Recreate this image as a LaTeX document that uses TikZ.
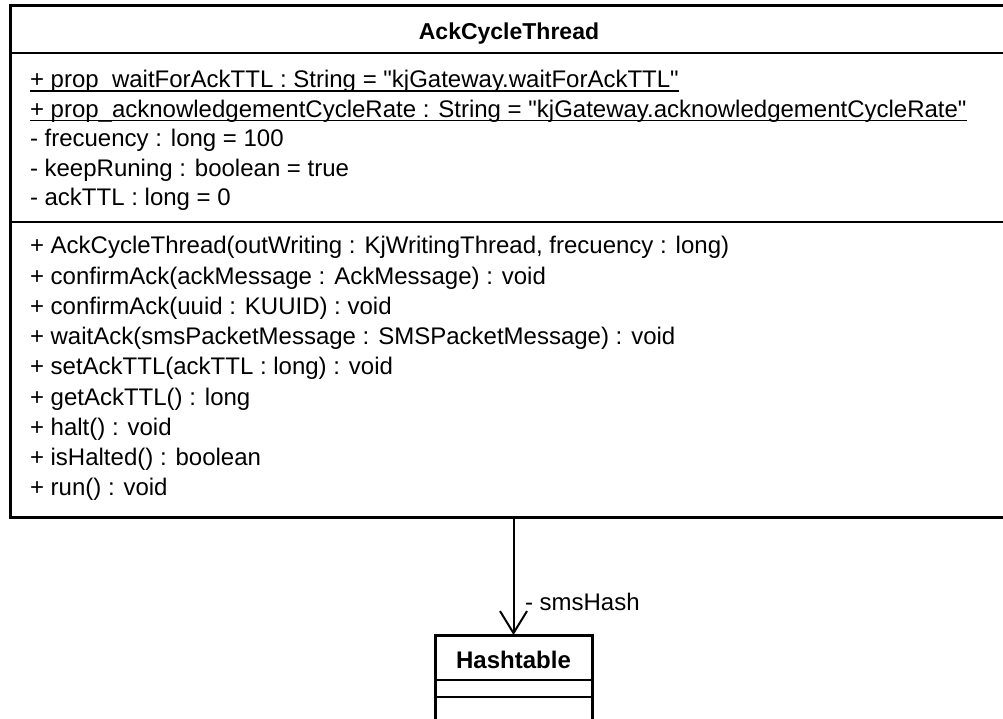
\documentclass[tikz,border=0pt]{standalone}
\usepackage{fontspec}
\newfontfamily\umlfont{Liberation Sans}
\usetikzlibrary{arrows.meta}
\begin{document}
\begin{tikzpicture}[x=1pt,y=-1pt,
  classbox/.style={draw=black, line width=3pt, inner sep=0pt, outer sep=0pt, fill=white},
  sepline/.style={draw=black, line width=2.2pt},
  txt/.style={anchor=base west, inner sep=0pt, outer sep=0pt, font=\umlfont\fontsize{24}{28}\selectfont},
  hdr/.style={anchor=base, inner sep=0pt, outer sep=0pt, font=\umlfont\bfseries\fontsize{23}{28}\selectfont},
  uline/.style={draw=black, line width=1.6pt},
  assoc/.style={draw=black, line width=2pt, -{Straight Barb[length=22pt, width=27pt, line width=2pt]}}
]
\useasboundingbox (0,0) rectangle (1003,719);
\fill[white] (0,0) rectangle (1003,719);

% main class
\node[classbox, minimum width=994pt, minimum height=511pt, anchor=north west] (ack) at (10,6) {};
\draw[sepline] (ack.west |- 0,53) -- (ack.east |- 0,53);
\draw[sepline] (ack.west |- 0,222) -- (ack.east |- 0,222);
\node[hdr] (title) at (509,40) {AckCycleThread};

% attributes
\node[txt] (a1) at (30,88) {+ prop\_waitForAckTTL : String = "kjGateway.waitForAckTTL"};
\node[txt] (a2) at (30,117.5) {+ prop\_acknowledgementCycleRate : String = "kjGateway.acknowledgementCycleRate"};
\node[txt] (a3) at (30,147) {- frecuency : long = 100};
\node[txt] (a4) at (30,176.5) {- keepRuning : boolean = true};
\node[txt] (a5) at (30,206) {- ackTTL : long = 0};
\draw[uline] ([yshift=-3pt]a1.base west) -- ([yshift=-3pt]a1.base east);
\draw[uline] ([yshift=-3pt]a2.base west) -- ([yshift=-3pt]a2.base east);

% operations
\node[txt] (m1) at (30,254) {+ AckCycleThread(outWriting : KjWritingThread, frecuency : long)};
\node[txt] (m2) at (30,284.2) {+ confirmAck(ackMessage : AckMessage) : void};
\node[txt] (m3) at (30,314.4) {+ confirmAck(uuid : KUUID) : void};
\node[txt] (m4) at (30,344.6) {+ waitAck(smsPacketMessage : SMSPacketMessage) : void};
\node[txt] (m5) at (30,374.8) {+ setAckTTL(ackTTL : long) : void};
\node[txt] (m6) at (30,405) {+ getAckTTL() : long};
\node[txt] (m7) at (30,435.2) {+ halt() : void};
\node[txt] (m8) at (30,465.4) {+ isHalted() : boolean};
\node[txt] (m9) at (30,495.6) {+ run() : void};

% Hashtable class
\node[classbox, minimum width=157pt, minimum height=90pt, anchor=north west] (hash) at (435,635) {};
\draw[sepline] (hash.west |- 0,680) -- (hash.east |- 0,680);
\draw[sepline] (hash.west |- 0,697) -- (hash.east |- 0,697);
\node[hdr, font=\umlfont\bfseries\fontsize{24}{28}\selectfont] (htitle) at (hash.north |- 0,668) {Hashtable};

% association
\draw[assoc] (hash.north |- ack.south) -- (hash.north);
\node[txt] (lbl) at (525,610) {- smsHash};
\end{tikzpicture}
\end{document}
